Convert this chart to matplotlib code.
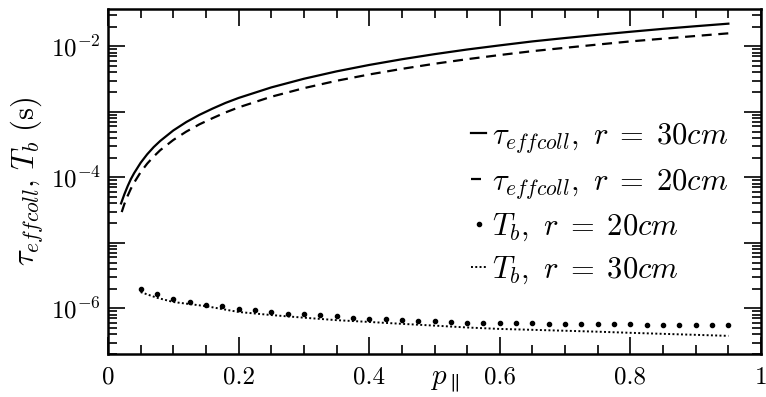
import math
import matplotlib
matplotlib.use("Agg")
import matplotlib.pyplot as plt
from matplotlib.ticker import LogLocator, MultipleLocator, FixedLocator, FuncFormatter, NullFormatter

# values
p_tau30 = [0.02, 0.025, 0.03, 0.035, 0.04, 0.05, 0.06, 0.07, 0.08, 0.1, 0.12, 0.14, 0.16, 0.18,
           0.2, 0.25, 0.3, 0.35, 0.4, 0.45, 0.5, 0.55, 0.6, 0.65, 0.7, 0.75, 0.8, 0.85, 0.9, 0.95]
tau30 = [4.0e-5, 5.5e-5, 7.3e-5, 9.4e-5, 1.16e-4, 1.67e-4, 2.25e-4, 2.9e-4, 3.6e-4, 5.2e-4,
         7.0e-4, 9.0e-4, 1.12e-3, 1.37e-3, 1.63e-3, 2.36e-3, 3.2e-3, 4.15e-3, 5.2e-3, 6.35e-3,
         7.6e-3, 8.95e-3, 1.035e-2, 1.19e-2, 1.34e-2, 1.5e-2, 1.67e-2, 1.85e-2, 2.03e-2, 2.22e-2]

p_tau20 = [0.021, 0.025, 0.03, 0.035, 0.04, 0.05, 0.06, 0.07, 0.08, 0.1, 0.12, 0.14, 0.16, 0.18,
           0.2, 0.25, 0.3, 0.35, 0.4, 0.45, 0.5, 0.55, 0.6, 0.65, 0.7, 0.75, 0.8, 0.85, 0.9, 0.95]
tau20 = [2.95e-5, 3.9e-5, 5.2e-5, 6.7e-5, 8.3e-5, 1.2e-4, 1.62e-4, 2.08e-4, 2.6e-4, 3.72e-4,
         5.0e-4, 6.45e-4, 8.0e-4, 9.8e-4, 1.17e-3, 1.7e-3, 2.3e-3, 2.98e-3, 3.72e-3, 4.53e-3,
         5.42e-3, 6.37e-3, 7.37e-3, 8.45e-3, 9.5e-3, 1.065e-2, 1.19e-2, 1.31e-2, 1.44e-2, 1.58e-2]

p_tb20 = [0.05, 0.075, 0.1, 0.125, 0.15, 0.175, 0.2, 0.225, 0.25, 0.275, 0.3, 0.325, 0.35,
          0.375, 0.4, 0.425, 0.45, 0.475, 0.5, 0.525, 0.55, 0.575, 0.6, 0.625, 0.65, 0.675,
          0.7, 0.725, 0.75, 0.775, 0.8, 0.825, 0.85, 0.875, 0.9, 0.925, 0.95]
tb20 = [2.0e-6, 1.64e-6, 1.41e-6, 1.24e-6, 1.14e-6, 1.07e-6, 9.9e-7, 9.3e-7, 8.8e-7, 8.3e-7,
        8.1e-7, 7.8e-7, 7.55e-7, 7.2e-7, 6.97e-7, 6.8e-7, 6.6e-7, 6.5e-7, 6.34e-7, 6.2e-7,
        6.05e-7, 6.0e-7, 5.97e-7, 5.93e-7, 5.9e-7, 5.86e-7, 5.82e-7, 5.78e-7, 5.75e-7,
        5.72e-7, 5.68e-7, 5.65e-7, 5.62e-7, 5.59e-7, 5.56e-7, 5.53e-7, 5.5e-7]

p_tb30 = [0.05, 0.075, 0.1, 0.15, 0.2, 0.25, 0.3, 0.35, 0.4, 0.45, 0.5, 0.55, 0.6, 0.65,
          0.7, 0.75, 0.8, 0.85, 0.9, 0.95]
tb30 = [1.77e-6, 1.45e-6, 1.25e-6, 1.08e-6, 8.8e-7, 7.9e-7, 7.2e-7, 6.6e-7, 6.2e-7, 5.8e-7,
        5.45e-7, 5.1e-7, 4.85e-7, 4.7e-7, 4.55e-7, 4.4e-7, 4.23e-7, 4.08e-7, 3.94e-7, 3.8e-7]

xtick_vals = [0, 0.2, 0.4, 0.6, 0.8, 1]
xtick_labels = ["0", "0.2", "0.4", "0.6", "0.8", "1"]

plt.rcParams["mathtext.fontset"] = "cm"
plt.rcParams["font.family"] = "serif"
plt.rcParams["font.serif"] = ["cmr10", "DejaVu Serif"]
plt.rcParams["axes.unicode_minus"] = False

fig = plt.figure(figsize=(7.66, 3.97), dpi=100)
ax = fig.add_axes([0.141, 0.108, 0.8525, 0.869])

ax.plot(p_tau30, tau30, color="black", lw=1.6, label=r"$\tau_{effcoll},\ r\;=\;30cm$")
ax.plot(p_tau20, tau20, color="black", lw=1.6, linestyle=(0, (4.5, 3)),
        label=r"$\tau_{effcoll},\ r\;=\;20cm$")
ax.plot(p_tb20, tb20, linestyle="none", marker="o", markersize=3, color="black",
        label=r"$T_b,\ r\;=\;20cm$")
ax.plot(p_tb30, tb30, color="black", lw=1.4, linestyle=(0, (1, 1.2)),
        label=r"$T_b,\ r\;=\;30cm$")

ax.set_yscale("log")
ax.set_xlim(0, 1)
ax.set_ylim(2e-7, 3.7e-2)

ax.xaxis.set_major_locator(FixedLocator(xtick_vals))
ax.set_xticklabels(xtick_labels)
ax.xaxis.set_minor_locator(MultipleLocator(0.05))

ax.yaxis.set_major_locator(LogLocator(base=10, numticks=20))
ax.yaxis.set_minor_locator(LogLocator(base=10, subs=range(2, 10), numticks=50))
ax.yaxis.set_minor_formatter(NullFormatter())


def log_label(v, pos):
    e = int(round(math.log10(v)))
    if e % 2 == 0:
        return r"$10^{%d}$" % e
    return ""


ax.yaxis.set_major_formatter(FuncFormatter(log_label))

for s in ax.spines.values():
    s.set_linewidth(1.8)
ax.tick_params(which="both", direction="in", top=True, right=True, labelsize=18, width=1.2)
ax.tick_params(which="major", length=12)
ax.tick_params(which="minor", length=6.5)
ax.tick_params(axis="x", pad=9)
ax.tick_params(axis="y", pad=5)

ax.set_ylabel(r"$\tau_{effcoll},\, T_b\ (\mathrm{s})$", fontsize=22, labelpad=4)
ax.set_xlabel(r"$p_{\parallel}$", fontsize=21)
ax.xaxis.set_label_coords(0.515, -0.04)

ax.legend(loc="upper left", bbox_to_anchor=(0.556, 0.675), frameon=False, fontsize=22,
          handlelength=0.5, handletextpad=0.2, labelspacing=0.37, borderpad=0,
          borderaxespad=0, markerscale=1.0)

fig.savefig("out.png", dpi=100)
